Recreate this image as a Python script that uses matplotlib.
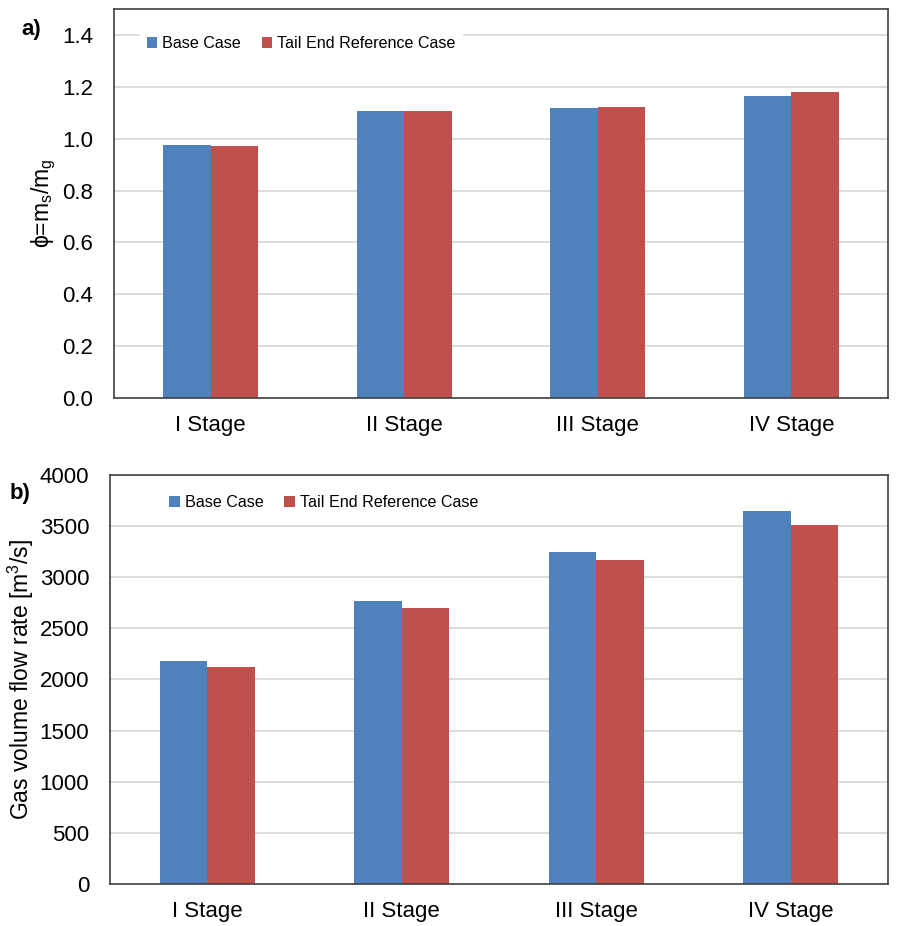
import numpy as np
import matplotlib.pyplot as plt

plt.rcParams['font.family'] = ['Liberation Sans', 'DejaVu Sans']

stages = ['I Stage', 'II Stage', 'III Stage', 'IV Stage']
series = ['Base Case', 'Tail End Reference Case']

# solid-to-gas mass ratio per stage
phi_base = [0.975, 1.105, 1.117, 1.164]
phi_tail = [0.972, 1.105, 1.122, 1.180]

# gas volume flow rate [m3/s] per stage
flow_base = [2180, 2770, 3248, 3650]
flow_tail = [2120, 2700, 3168, 3515]

c_base = '#4F81BD'
c_tail = '#C0504D'
grid_c = '#D9D9D9'

fig = plt.figure(figsize=(9, 9.26), dpi=100)
ax1 = fig.add_axes([0.1267, 0.5702, 0.86, 0.4201])
ax2 = fig.add_axes([0.1222, 0.0454, 0.8645, 0.4416])

x = np.arange(len(stages))
w = 0.245


def draw(ax, base, tail, ylim, yticks, fmt, ylabel, leg_anchor):
    ax.bar(x - w / 2, base, w, color=c_base, label=series[0], zorder=2)
    ax.bar(x + w / 2, tail, w, color=c_tail, label=series[1], zorder=2)
    ax.set_xlim(-0.5, len(stages) - 0.5)
    ax.set_ylim(*ylim)
    ax.set_yticks(yticks)
    ax.set_yticklabels([fmt.format(v) for v in yticks], fontsize=16)
    ax.set_xticks(x)
    ax.set_xticklabels(stages, fontsize=16)
    ax.tick_params(axis='x', length=0, pad=12)
    ax.tick_params(axis='y', length=0, pad=15)
    ax.yaxis.grid(True, color=grid_c, linewidth=1.3, zorder=0)
    ax.set_axisbelow(True)
    for s in ax.spines.values():
        s.set_color('#404040')
        s.set_linewidth(1.2)
    ax.set_ylabel(ylabel, fontsize=16.5)
    leg = ax.legend(loc='upper left', bbox_to_anchor=leg_anchor, ncol=2,
                    frameon=True, fontsize=11.6, handlelength=0.65,
                    handleheight=0.65, handletextpad=0.3, columnspacing=1.3,
                    borderaxespad=0, fancybox=False)
    leg.get_frame().set_edgecolor('white')
    leg.get_frame().set_facecolor('white')
    leg.get_frame().set_alpha(1)


draw(ax1, phi_base, phi_tail, (0, 1.5), np.arange(0, 1.41, 0.2), '{:.1f}',
     r'$\mathregular{\phi}$=m$_\mathregular{s}$/m$_\mathregular{g}$',
     (0.034, 0.947))
draw(ax2, flow_base, flow_tail, (0, 4000), np.arange(0, 4001, 500), '{:.0f}',
     r'Gas volume flow rate [m$^\mathregular{3}$/s]', (0.068, 0.966))
ax1.yaxis.set_label_coords(-0.072, 0.5)
ax2.yaxis.set_label_coords(-0.095, 0.5)

fig.text(0.024, 0.962, 'a)', fontsize=16, fontweight='bold')
fig.text(0.011, 0.461, 'b)', fontsize=16, fontweight='bold')

fig.savefig('out.png', dpi=100)
